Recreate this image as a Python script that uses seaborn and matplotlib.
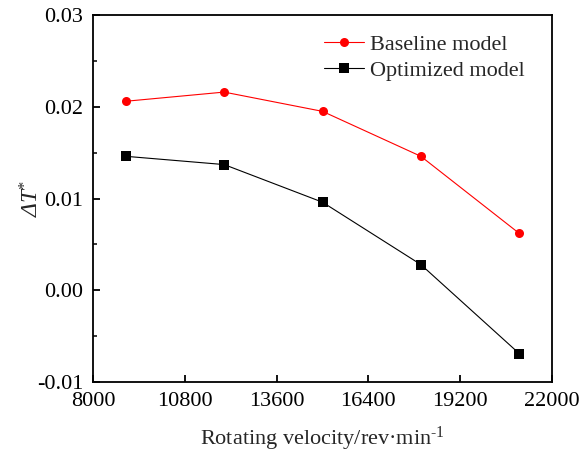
import matplotlib
matplotlib.use("Agg")
import matplotlib.pyplot as plt
from matplotlib.ticker import MultipleLocator
import seaborn as sns
import pandas as pd

velocity = [9000, 12000, 15000, 18000, 21000]
baseline = [0.0206, 0.0216, 0.0195, 0.0146, 0.0062]
optimized = [0.0146, 0.0137, 0.0096, 0.0028, -0.0069]
series_names = ["Baseline model", "Optimized model"]
x_ticks = [8000, 10800, 13600, 16400, 19200, 22000]
y_ticks = [-0.01, 0.00, 0.01, 0.02, 0.03]

df = pd.DataFrame({
    "velocity": velocity * 2,
    "value": baseline + optimized,
    "model": [series_names[0]] * len(velocity) + [series_names[1]] * len(velocity),
})

sns.set_theme(style="ticks")
plt.rcParams["font.family"] = ["Liberation Serif", "DejaVu Serif"]
plt.rcParams["mathtext.fontset"] = "custom"
plt.rcParams["mathtext.rm"] = "Liberation Serif"
plt.rcParams["mathtext.it"] = "Liberation Serif:italic"
plt.rcParams["mathtext.sf"] = "Liberation Serif:italic"
plt.rcParams["axes.unicode_minus"] = False

fig = plt.figure(figsize=(5.79, 4.55), dpi=100)
ax = fig.add_axes([0.1606, 0.1604, 0.7928, 0.8066])

sns.lineplot(data=df, x="velocity", y="value", hue="model", style="model",
             markers={series_names[0]: "o", series_names[1]: "s"}, dashes=False,
             palette={series_names[0]: "#ff0000", series_names[1]: "#000000"},
             linewidth=0.8, markersize=6.5, markeredgewidth=0, ax=ax)

ax.set_xlim(8000, 22000)
ax.set_ylim(-0.01, 0.03)
ax.set_xticks(x_ticks)
ax.set_xticklabels([str(t) for t in x_ticks])
ax.set_yticks(y_ticks)
ax.set_yticklabels([f"{t:.2f}" for t in y_ticks])
ax.yaxis.set_minor_locator(MultipleLocator(0.005))

for sp in ax.spines.values():
    sp.set_visible(True)
    sp.set_linewidth(1.3)
    sp.set_color("black")

ax.tick_params(axis="both", which="major", direction="in", length=5, width=1.3,
               labelsize=16, colors="black")
ax.tick_params(axis="x", which="major", pad=7)
ax.tick_params(axis="y", which="major", pad=7)
ax.tick_params(axis="y", which="minor", direction="in", length=3, width=1.3)
ax.tick_params(top=False, right=False, which="both")

ax.set_xlabel("Rotating velocity/rev\u00b7min$^{\\text{-}1}$", fontsize=16, labelpad=10)
ax.set_ylabel("$\\mathsf{\u0394T}^{*}$", fontsize=17)
ax.yaxis.set_label_coords(-0.107, 0.5)

leg = ax.legend(loc="upper right", frameon=False, fontsize=16, handlelength=1.8,
                handletextpad=0.3, bbox_to_anchor=(0.975, 0.99), borderaxespad=0.3,
                labelspacing=0.25)

fig.savefig("out.png", dpi=100)
